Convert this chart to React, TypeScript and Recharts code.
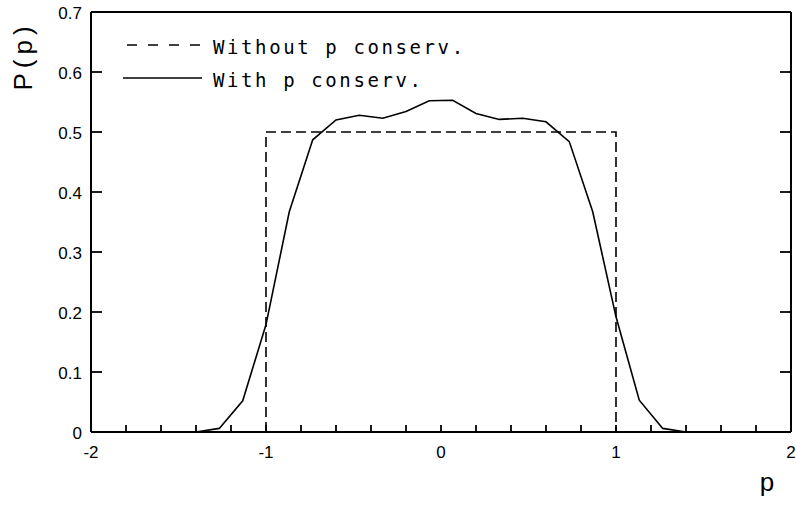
import { Legend, Line, LineChart, XAxis, YAxis } from 'recharts';

// momentum bins (bin centres) and P(p)
const P_BINS = [
  -1.933, -1.8, -1.667, -1.533, -1.4, -1.267, -1.133, -1.0, -0.867, -0.733,
  -0.6, -0.467, -0.333, -0.2, -0.067, 0.067, 0.2, 0.333, 0.467, 0.6, 0.733,
  0.867, 1.0, 1.133, 1.267, 1.4, 1.533, 1.667, 1.8, 1.933,
];
const WITH_CONSERV = [
  0, 0, 0, 0, 0, 0.006, 0.052, 0.179, 0.367, 0.487, 0.52, 0.528, 0.523,
  0.534, 0.552, 0.553, 0.531, 0.521, 0.523, 0.517, 0.484, 0.367, 0.192,
  0.053, 0.006, 0, 0, 0, 0, 0,
];

// flat distribution without momentum conservation
const STEP_P = [-1, -1, 1, 1];
const STEP_VALUES = [0, 0.5, 0.5, 0];

const X_TICKS = [
  -2, -1.8, -1.6, -1.4, -1.2, -1, -0.8, -0.6, -0.4, -0.2, 0, 0.2, 0.4, 0.6,
  0.8, 1, 1.2, 1.4, 1.6, 1.8, 2,
];
const Y_TICKS = [0, 0.1, 0.2, 0.3, 0.4, 0.5, 0.6, 0.7];

const SERIES_NAMES = ['Without p conserv.', 'With p conserv.'];

const withData = P_BINS.map((p, i) => ({ p, value: WITH_CONSERV[i] }));
const stepData = STEP_P.map((p, i) => ({ p, value: STEP_VALUES[i] }));

const INK = '#000';
const TICK_FONT = '"Liberation Sans", Arial, sans-serif';
const TEXT_FONT = '"DejaVu Sans Mono", monospace';

const isWhole = (v: number) => Math.abs(v - Math.round(v)) < 1e-6;

const BottomTick = ({ x, y, payload }: any) => (
  <g>
    <line x1={x} y1={y} x2={x} y2={y - 7} stroke={INK} strokeWidth={1.8} />
    {isWhole(payload.value) && (
      <text x={x} y={y + 26} textAnchor="middle" fontSize={17} fontFamily={TICK_FONT} fill={INK}>
        {Math.round(payload.value)}
      </text>
    )}
  </g>
);

const TopTick = ({ x, y }: any) => (
  <line x1={x} y1={y} x2={x} y2={y + 7} stroke={INK} strokeWidth={1.8} />
);

const LeftTick = ({ x, y, payload }: any) => (
  <g>
    <line x1={x} y1={y} x2={x + 11} y2={y} stroke={INK} strokeWidth={1.8} />
    <text x={x - 9} y={y + 7} textAnchor="end" fontSize={17} fontFamily={TICK_FONT} fill={INK}>
      {payload.value === 0 ? '0' : payload.value.toFixed(1)}
    </text>
  </g>
);

const RightTick = ({ x, y }: any) => (
  <line x1={x} y1={y} x2={x - 11} y2={y} stroke={INK} strokeWidth={1.8} />
);

const YTitle = ({ viewBox }: any) => {
  const cx = viewBox.x + 32;
  const cy = viewBox.y + 44;
  return (
    <text
      x={cx}
      y={cy}
      transform={`rotate(-90 ${cx} ${cy})`}
      textAnchor="middle"
      fontSize={26}
      letterSpacing={5}
      fontFamily={TICK_FONT}
      fill={INK}>
      P(p)
    </text>
  );
};

const XTitle = ({ viewBox }: any) => (
  <text
    x={viewBox.x + viewBox.width - 24}
    y={viewBox.y + 59}
    textAnchor="middle"
    fontSize={26}
    fontFamily={TICK_FONT}
    fill={INK}>
    p
  </text>
);

const LegendBox = ({ payload }: any) => (
  <svg width={600} height={100} style={{ display: 'block', overflow: 'visible' }}>
    {(payload || []).map((entry: any) => {
      const i = Math.max(0, SERIES_NAMES.indexOf(entry.value));
      const dashed = i === 0;
      const y = 45 + i * 33;
      return (
        <g key={entry.value}>
          <line
            x1={dashed ? 127 : 123}
            y1={y}
            x2={dashed ? 200 : 202}
            y2={y}
            stroke={INK}
            strokeWidth={1.5}
            strokeDasharray={dashed ? '10 11' : undefined}
          />
          <text
            x={213}
            y={y + 9}
            fontSize={19}
            letterSpacing={2.6}
            fontFamily={TEXT_FONT}
            fill={INK}>
            {entry.value}
          </text>
        </g>
      );
    })}
  </svg>
);

export default function App() {
  return (
    <div style={{ position: 'absolute', left: 0, top: 0, background: '#fff' }}>
      <LineChart width={796} height={506} margin={{ top: 0, right: 0, bottom: 0, left: 0 }}>
        <XAxis
          xAxisId="bottom"
          dataKey="p"
          type="number"
          domain={[-2, 2]}
          allowDataOverflow
          ticks={X_TICKS}
          interval={0}
          height={74}
          tickSize={0}
          tickMargin={0}
          tickLine={false}
          tick={<BottomTick />}
          axisLine={{ stroke: INK, strokeWidth: 2 }}
          label={<XTitle />}
        />
        <XAxis
          xAxisId="top"
          orientation="top"
          type="number"
          domain={[-2, 2]}
          allowDataOverflow
          ticks={X_TICKS}
          interval={0}
          height={12}
          tickSize={0}
          tickMargin={0}
          tickLine={false}
          tick={<TopTick />}
          axisLine={{ stroke: INK, strokeWidth: 2 }}
        />
        <YAxis
          yAxisId="left"
          type="number"
          domain={[0, 0.7]}
          allowDataOverflow
          ticks={Y_TICKS}
          interval={0}
          width={91}
          tickSize={0}
          tickMargin={0}
          tickLine={false}
          tick={<LeftTick />}
          axisLine={{ stroke: INK, strokeWidth: 2 }}
          label={<YTitle />}
        />
        <YAxis
          yAxisId="right"
          orientation="right"
          type="number"
          domain={[0, 0.7]}
          allowDataOverflow
          ticks={Y_TICKS}
          interval={0}
          width={5}
          tickSize={0}
          tickMargin={0}
          tickLine={false}
          tick={<RightTick />}
          axisLine={{ stroke: INK, strokeWidth: 2 }}
        />
        <Legend
          layout="vertical"
          align="center"
          verticalAlign="middle"
          content={<LegendBox />}
          wrapperStyle={{ left: 0, top: 0, width: 600, height: 100 }}
        />
        <Line
          xAxisId="bottom"
          yAxisId="left"
          data={stepData}
          dataKey="value"
          name={SERIES_NAMES[0]}
          type="linear"
          stroke={INK}
          strokeWidth={1.6}
          strokeDasharray="10 5"
          dot={false}
          isAnimationActive={false}
        />
        <Line
          xAxisId="bottom"
          yAxisId="left"
          data={withData}
          dataKey="value"
          name={SERIES_NAMES[1]}
          type="linear"
          stroke={INK}
          strokeWidth={1.6}
          dot={false}
          isAnimationActive={false}
        />
      </LineChart>
    </div>
  );
}
